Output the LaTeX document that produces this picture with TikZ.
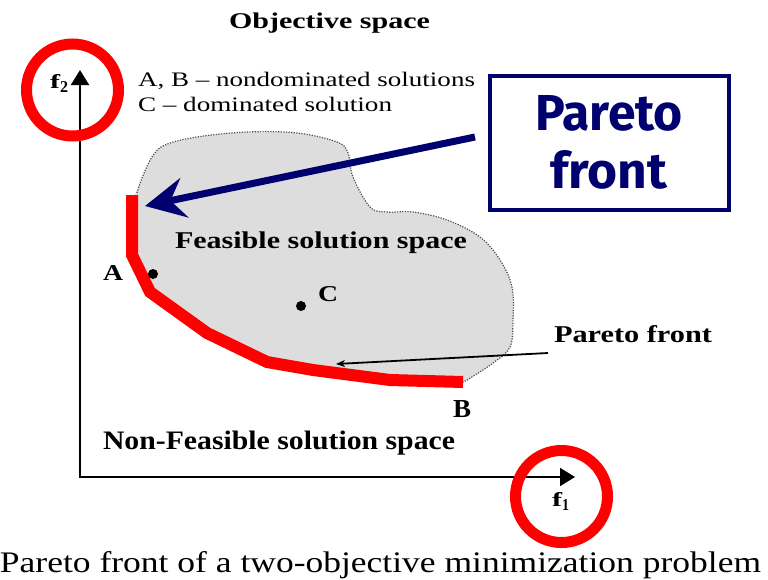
\documentclass[tikz,border=0pt]{standalone}
\usepackage{fontspec}
\setmainfont{Liberation Serif}
\newfontfamily\boxfont{Fira Sans}
\usetikzlibrary{arrows.meta}
\definecolor{navyc}{RGB}{0,0,110}
\definecolor{blobc}{RGB}{221,221,221}
\definecolor{redc}{RGB}{255,0,0}
\newcommand{\fitt}[3]{\resizebox{#1pt}{#2pt}{#3}}
\begin{document}
\begin{tikzpicture}[x=1pt,y=-1pt,
  lbl/.style={inner sep=0pt, outer sep=0pt, anchor=base west},
  dotnode/.style={circle, fill=black, inner sep=0pt, minimum size=10pt},
  axisline/.style={line width=2pt, {Triangle[length=15pt,width=18pt]}-{Triangle[length=15pt,width=18pt]}},
  redring/.style={draw=redc, line width=11pt},
  redfront/.style={draw=redc, line width=12pt, line join=miter},
  navyarrow/.style={draw=navyc, line width=7pt, -{Stealth[length=40pt,width=40pt,inset=14pt]}},
  pointer/.style={draw=black, line width=1.8pt, -{Stealth[length=9pt,width=7pt]}},
  blobline/.style={draw=black!70, line width=1.2pt, dash pattern=on 1.2pt off 1.4pt},
  pfbox/.style={draw=navyc, line width=4pt, fill=white, minimum width=239pt, minimum height=134pt, inner sep=0pt}
]
\useasboundingbox (0,0) rectangle (768,579);

% feasible region
\fill[blobc] plot[smooth, tension=0.6] coordinates {(132,200) (137,190) (142,178) (152,157) (165,145) (197,137) (247,132) (297,133) (337,142) (348,153) (353,177) (370,207) (387,212) (413,212) (447,220) (480,237) (500,260) (512,287) (513,320) (510,347) (493,363) (467,380) (460,383)} -- (390,380) -- (313,370) -- (267,362) -- (207,333) -- (150,292) -- (132,255) -- cycle;
\draw[blobline] plot[smooth, tension=0.6] coordinates {(137,193) (142,178) (152,157) (165,145) (197,137) (247,132) (297,133) (337,142) (348,153) (353,177) (370,207) (387,212) (413,212) (447,220) (480,237) (500,260) (512,287) (513,320) (510,347) (493,363) (467,380) (460,383)};

% axes
\coordinate (yt) at (80,70);
\coordinate (O) at (80,477);
\coordinate (xt) at (575,477);
\draw[axisline] (yt) -- (O) -- (xt);

% title and legend
\node[lbl] (title) at (229,28.5) {\fitt{201}{15.6}{\bfseries Objective space}};
\node[lbl] (leg1) at (138,86) {\fitt{337}{14.3}{A, B – nondominated solutions}};
\node[lbl] (leg2) at (138,111.5) {\fitt{254}{14.3}{C – dominated solution}};

% axis labels
\node[lbl] (f2) at (50,88) {\fitt{10}{14}{\bfseries f}\raisebox{-4pt}{\fitt{8}{11}{\bfseries 2}}};
\node[lbl] (f1) at (552,506) {\fitt{10}{14}{\bfseries f}\raisebox{-4pt}{\fitt{7}{11}{\bfseries 1}}};

% region labels
\node[lbl] (feas) at (175,248) {\fitt{292}{16.7}{\bfseries Feasible solution space}};
\node[lbl] (nonfeas) at (103,449) {\fitt{352}{18.5}{\bfseries Non-Feasible solution space}};

% pareto front line
\draw[redfront] (132,195) -- (132,255) -- (150,292) -- (207,333) -- (267,362) -- (313,370) -- (390,380) -- (463,382);

% points
\node[dotnode] (A) at (153,274) {};
\node[dotnode] (C) at (301,306) {};
\node[lbl] (Alab) at (103,280) {\fitt{20}{15}{\bfseries A}};
\node[lbl] (Clab) at (318,301) {\fitt{20}{15}{\bfseries C}};
\node[lbl] (Blab) at (453,417) {\fitt{18}{17}{\bfseries B}};

% black pareto front label and pointer
\node[lbl] (pflab) at (554,342) {\fitt{158}{17}{\bfseries Pareto front}};
\coordinate (pstart) at (548,353);
\coordinate (pend) at (336,364);
\draw[pointer] (pstart) -- (pend);

% big pareto front box
\node[pfbox] (pf) at (609.5,143) {};
\node[lbl] (pft1) at (535,130) {\fitt{148}{35}{\color{navyc}\boxfont\bfseries Pareto}};
\node[lbl] (pft2) at (550,188) {\fitt{117}{38}{\color{navyc}\boxfont\bfseries front}};
\coordinate (ptail) at (475,137);
\coordinate (ptip) at (145,206);
\draw[navyarrow] (ptail) -- (ptip);

% red rings
\draw[redring] (72.5,90) circle (46);
\draw[redring] (561.5,496.5) circle (46);

% caption
\node[lbl] (cap) at (0,572) {\fitt{761}{21}{Pareto front of a two-objective minimization problem}};
\end{tikzpicture}
\end{document}
